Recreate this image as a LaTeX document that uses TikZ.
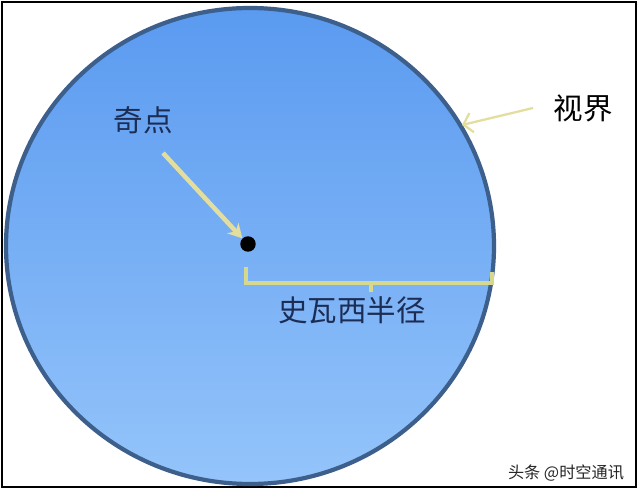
\documentclass[tikz,border=0pt]{standalone}
\usepackage{fontspec}
\newfontfamily\cjk{Noto Sans CJK SC}
\usetikzlibrary{positioning,calc,arrows.meta}

\definecolor{rimblue}{HTML}{3D5F8C}
\definecolor{topblue}{HTML}{5A9AF0}
\definecolor{lowblue}{HTML}{94C4FA}
\definecolor{pointer}{HTML}{E4DE9E}
\definecolor{bracecol}{HTML}{D6D88E}
\definecolor{ink}{HTML}{1C2D55}

\tikzset{
	cjktext/.style={align=center, inner sep=1pt, font=\cjk\fontsize{21}{24}\selectfont},
	pointer/.style={draw=pointer, line width=3.2pt, -{Stealth[length=10pt,width=11pt]}},
	barb/.style={draw=pointer, line width=1.6pt, -{Straight Barb[length=6pt,width=14pt]}},
	bracket/.style={draw=bracecol, line width=2.8pt},
}

\begin{document}
\begin{tikzpicture}[x=0.025cm, y=0.025cm]
	\useasboundingbox (0,0) rectangle (640,494);
	\fill[white] (0,0) rectangle (640,494);
	\draw[line width=1.8pt] (2,492) rectangle (636,7);

	% event horizon
	\shade[top color=topblue, bottom color=lowblue] (250,248) ellipse [x radius=244, y radius=238];
	\draw[rimblue, line width=3pt] (250,248) ellipse [x radius=244, y radius=238];

	\begin{scope}
		\node[circle, fill=black, minimum size=11pt, inner sep=0pt] (sing) at (248,250) {};
		\node[cjktext, text=ink] (qidian) at (143,374) {奇点};
		\node[cjktext, text=black] (shijie) at (583,386) {视界};
		\node[cjktext, text=ink] (radius) at (352,184) {史瓦西半径};
		\node[font=\cjk\fontsize{11.5}{13}\selectfont, text=black!85] (mark) at (566,21) {头条 @时空通讯};

		\coordinate (qtail) at (163,341);
		\coordinate (stail) at (533,386);
		\coordinate (edge) at (462,369);
		\coordinate (bl) at (246,227);
		\coordinate (br) at (492,222);
		\coordinate (tip) at (371,202);

		\draw [pointer] (qtail) to (sing.north west);
		\draw [barb] (stail) to (edge);
		\draw [bracket] (bl) |- (br |- 0,211) -- (br);
		\draw [bracket] (tip |- 0,211) -- (tip);
	\end{scope}
\end{tikzpicture}
\end{document}
